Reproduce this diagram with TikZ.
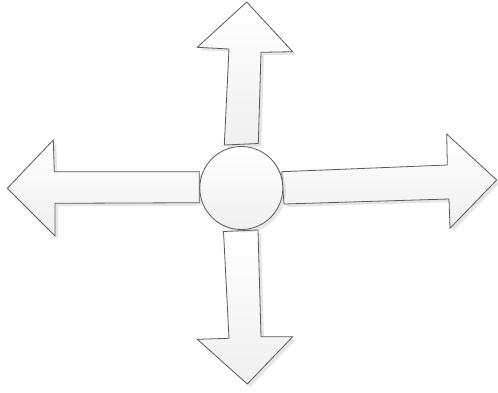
\documentclass[tikz,border=0pt]{standalone}
\usetikzlibrary{shadows}
\begin{document}
\begin{tikzpicture}[x=1pt,y=-1pt,
  shape3d/.style={draw=black!65, line width=0.8pt, line join=miter,
    top color=white, bottom color=gray!12,
    drop shadow={shadow xshift=3pt, shadow yshift=-3pt, opacity=0.2, fill=gray}}]
\useasboundingbox (0,0) rectangle (498,392);
% up arrow
\path[shape3d] (246.7,2) -- (292.7,51.7) -- (261,52.3) -- (258.3,143.5) -- (224.3,145) -- (229,49) -- (197.3,47.3) -- cycle;
% left arrow
\path[shape3d] (7.3,188.3) -- (53.3,140) -- (54.3,171.7) -- (199.3,171.7) -- (199.3,202.7) -- (55,203.3) -- (55,236) -- cycle;
% right arrow
\path[shape3d] (496.7,180) -- (450,228.3) -- (449,199) -- (284,204) -- (281.7,171.7) -- (447.3,165) -- (446.7,134) -- cycle;
% down arrow
\path[shape3d] (247.3,384) -- (197.3,339.3) -- (229,338.3) -- (223.5,231.5) -- (258,230) -- (261,336.7) -- (292.7,336.7) -- cycle;
% centre circle
\node[shape3d, circle, minimum size=83pt, inner sep=0pt] (c) at (241.3,188) {};
\end{tikzpicture}
\end{document}
